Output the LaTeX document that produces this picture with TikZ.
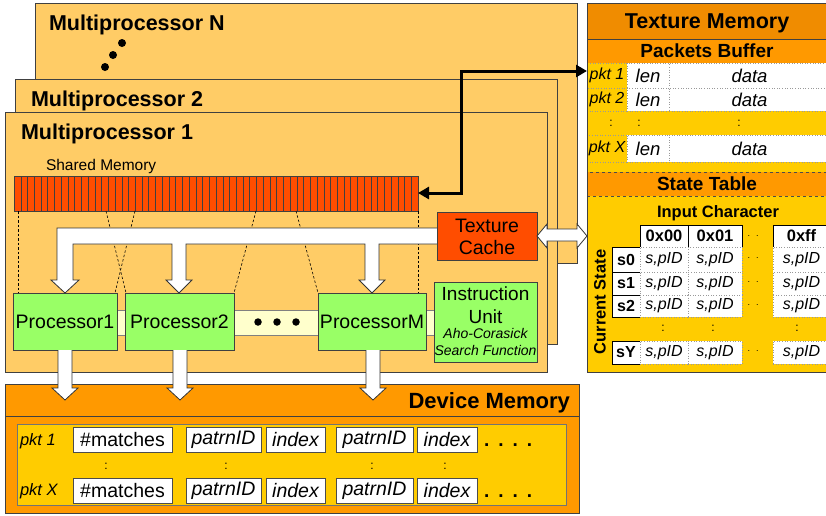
\documentclass[tikz,border=0pt]{standalone}
\usepackage{fontspec}
\setmainfont{Liberation Sans}
\usetikzlibrary{arrows.meta}
\newcommand{\fsz}[1]{\fontsize{#1}{#1}\selectfont}
% \rbox[options]{x1}{y1}{x2}{y2}{name}{text}
\newcommand{\rbox}[7][]{\node[#1, minimum width={(#4)-(#2)}, minimum height={(#5)-(#3)}, anchor=center] (#6) at ({((#2)+(#4))/2},{((#3)+(#5))/2}) {#7};}
\definecolor{mpfill}{HTML}{FFCC66}
\definecolor{redor}{HTML}{FF4D00}
\definecolor{grnc}{HTML}{99FF66}
\definecolor{yel}{HTML}{FFCC00}
\definecolor{org}{HTML}{FF9900}
\definecolor{dorg}{HTML}{F08C00}
\definecolor{lyel}{HTML}{FFFFCC}
\definecolor{edgec}{HTML}{404040}
\begin{document}
\begin{tikzpicture}[x=1pt,y=-1pt,
  every node/.style={inner sep=0pt, outer sep=0pt},
  bx/.style={draw=edgec, line width=0.8pt},
  mpbox/.style={bx, fill=mpfill},
  ttl/.style={font=\fsz{21.5}\bfseries, anchor=base west},
  grn/.style={bx, fill=grnc},
  dotn/.style={circle, fill=black, minimum size=8pt},
  dsh/.style={dash pattern=on 2.5pt off 2pt, line width=0.6pt},
  warrow/.style={draw=black!80, fill=white, line width=0.8pt, line join=miter},
  dmcell/.style={draw=black!70, fill=white, line width=0.8pt, font=\fsz{19.5}},
  pcell/.style={draw=gray!80, dotted, fill=yel, line width=0.6pt, font=\fsz{16}\itshape},
  wcell/.style={draw=gray!80, dotted, fill=white, line width=0.6pt, font=\fsz{18.5}\itshape},
  scell/.style={draw=gray!80, dotted, fill=white, line width=0.6pt, font=\fsz{16}\itshape},
  hdr/.style={draw=black, fill=white, line width=0.8pt, font=\fsz{16.5}\bfseries},
  colon/.style={font=\fsz{12}}
]
\path[use as bounding box] (0,0) rectangle (826,515);
\clip (0,0) rectangle (826,515);
\fill[white] (0,0) rectangle (826,515);

% Multiprocessor N
\rbox[mpbox]{35}{3}{577}{263}{mpN}{}
\node[ttl] (mpNt) at (49,30) {Multiprocessor N};
\node[dotn] (dN1) at (105,67) {};
\node[dotn] (dN2) at (113,55) {};
\node[dotn] (dN3) at (122,43) {};
% Multiprocessor 2
\rbox[mpbox]{15}{79}{557}{344}{mp2}{}
\node[ttl] (mp2t) at (31,106) {Multiprocessor 2};
% Multiprocessor 1
\rbox[mpbox]{5}{112}{547}{372}{mp1}{}
\node[ttl] (mp1t) at (21,139) {Multiprocessor 1};
\node[font=\fsz{15.5}, anchor=base west] (shmt) at (46,170) {Shared Memory};
\rbox[bx, fill=redor]{14}{176}{418}{211}{shm}{}
\foreach \i in {1,...,59} \draw[line width=0.4pt, black!75] ({14+\i*6.7333},176) -- ({14+\i*6.7333},211);

% bus and processors
\rbox[fill=lyel, draw=black!50, line width=0.6pt]{117}{310}{434}{335}{bus}{}
\rbox[grn, font=\fsz{19.5}]{13}{293}{117}{350}{p1}{Processor1}
\rbox[grn, font=\fsz{19.5}]{125}{293}{234}{350}{p2}{Processor2}
\rbox[grn, font=\fsz{19.5}]{318}{293}{426}{350}{pM}{ProcessorM}
\node[dotn, minimum size=7.5pt] (e1) at (258,322) {};
\node[dotn, minimum size=7.5pt] (e2) at (277,322) {};
\node[dotn, minimum size=7.5pt] (e3) at (296,322) {};
\rbox[grn]{434}{282}{537}{362}{iu}{}
\node[font=\fsz{19}, anchor=base] (iu1) at (485.5,300) {Instruction};
\node[font=\fsz{19}, anchor=base] (iu2) at (485.5,323) {Unit};
\node[font=\fsz{14}\itshape, anchor=base] (iu3) at (485.5,338) {Aho-Corasick};
\node[font=\fsz{14}\itshape, anchor=base] (iu4) at (485.5,355) {Search Function};

% dashed mapping lines
\draw[dsh] (18,0 |- shm.south) -- (18,0 |- p1.north);
\draw[dsh] (106,0 |- shm.south) -- (126,0 |- p2.north);
\draw[dsh] (135,0 |- shm.south) -- (115,0 |- p1.north);
\draw[dsh] (256,0 |- shm.south) -- (234,0 |- p2.north);
\draw[dsh] (296,0 |- shm.south) -- (318,0 |- pM.north);
\draw[dsh] (418,0 |- shm.south) -- (418,0 |- pM.north);

% big white arrow from texture cache
\draw[warrow] (437,228) -- (57,228) -- (57,280) -- (51,280) -- (65,293) -- (79,280) -- (73,280) -- (73,244)
  -- (172,244) -- (172,280) -- (166,280) -- (179,293) -- (192,280) -- (186,280) -- (186,244)
  -- (365,244) -- (365,280) -- (359,280) -- (372,293) -- (385,280) -- (379,280) -- (379,244) -- (437,244);
\rbox[bx, fill=redor]{437}{212}{537}{260}{tc}{}
\node[font=\fsz{19.5}, anchor=base] (tc1) at (487,232) {Texture};
\node[font=\fsz{19.5}, anchor=base] (tc2) at (487,254) {Cache};

% Device memory
\rbox[bx, fill=org]{5}{384}{579}{513}{dm}{}
\draw[bx] (dm.west |- 0,416) -- (dm.east |- 0,416);
\node[font=\fsz{22}\bfseries, anchor=base east] (dmt) at (570,408) {Device Memory};
\rbox[fill=yel, draw=black!55, line width=0.8pt]{17}{424}{566}{505}{dmi}{}
\node[font=\fsz{16.5}\itshape, anchor=base west] (r1) at (20,445) {pkt 1};
\rbox[dmcell]{73}{427}{172}{452}{m1}{\#matches}
\rbox[dmcell, font=\fsz{19.5}\itshape]{186}{427}{261}{452}{pa1}{patrnID}
\rbox[dmcell, font=\fsz{19.5}\itshape]{266}{427}{325}{452}{ia1}{index}
\rbox[dmcell, font=\fsz{19.5}\itshape]{336}{427}{413}{452}{pb1}{patrnID}
\rbox[dmcell, font=\fsz{19.5}\itshape]{417}{427}{477}{452}{ib1}{index}
\node[font=\fsz{19}\bfseries, anchor=base west] (dd1) at (484,446) {.\hspace{9pt}.\hspace{9pt}.\hspace{9pt}.};
\node[font=\fsz{16.5}\itshape, anchor=base west] (rX) at (20,495) {pkt X};
\rbox[dmcell]{73}{478}{172}{503}{mX}{\#matches}
\rbox[dmcell, font=\fsz{19.5}\itshape]{186}{478}{261}{503}{paX}{patrnID}
\rbox[dmcell, font=\fsz{19.5}\itshape]{266}{478}{325}{503}{iaX}{index}
\rbox[dmcell, font=\fsz{19.5}\itshape]{336}{478}{413}{503}{pbX}{patrnID}
\rbox[dmcell, font=\fsz{19.5}\itshape]{417}{478}{477}{503}{ibX}{index}
\node[font=\fsz{19}\bfseries, anchor=base west] (ddX) at (484,497) {.\hspace{9pt}.\hspace{9pt}.\hspace{9pt}.};
\node[colon] (dc1) at (106,466) {:};
\node[colon] (dc2) at (226,466) {:};
\node[colon] (dc3) at (372,466) {:};
\node[colon] (dc4) at (445,466) {:};

% down arrows
\draw[warrow] (58,350) -- (58,388) -- (52,388) -- (65,400) -- (78,388) -- (72,388) -- (72,350);
\draw[warrow] (173,350) -- (173,388) -- (167,388) -- (180,400) -- (193,388) -- (187,388) -- (187,350);
\draw[warrow] (366,350) -- (366,388) -- (360,388) -- (373,400) -- (386,388) -- (380,388) -- (380,350);

% Texture memory
\rbox[bx, fill=yel]{587}{3}{830}{372}{tm}{}
\rbox[bx, fill=dorg]{587}{3}{830}{39}{tmh}{}
\node[font=\fsz{21.5}\bfseries, anchor=base] (tmt) at (707,28) {Texture Memory};
\rbox[bx, fill=org]{587}{39}{830}{63}{pbh}{}
\node[font=\fsz{19}\bfseries, anchor=base] (pbt) at (707,57) {Packets Buffer};
\rbox[pcell]{587}{63}{627}{88}{k1}{pkt 1}
\rbox[wcell]{627}{63}{669}{88}{l1}{len}
\rbox[wcell]{669}{63}{830}{88}{t1}{data}
\rbox[pcell]{587}{88}{627}{111}{k2}{pkt 2}
\rbox[wcell]{627}{88}{669}{111}{l2}{len}
\rbox[wcell]{669}{88}{830}{111}{t2}{data}
\rbox[pcell]{587}{135}{627}{162}{kX}{pkt X}
\rbox[wcell]{627}{135}{669}{162}{lX}{len}
\rbox[wcell]{669}{135}{830}{162}{tX}{data}
\node[colon] (pc1) at (611,123) {:};
\node[colon] (pc2) at (639,123) {:};
\node[colon] (pc3) at (739,123) {:};

% State table
\rbox[fill=org, draw=black!70, dashed, line width=0.8pt]{587}{172}{830}{196}{sth}{}
\node[font=\fsz{19}\bfseries, anchor=base] (stt) at (707,190) {State Table};
\node[font=\fsz{16.5}\bfseries, anchor=base] (ict) at (718,217) {Input Character};
\rbox[hdr]{640}{225}{688}{247}{h0}{0x00}
\rbox[hdr]{688}{225}{742}{247}{h1}{0x01}
\rbox[hdr]{773}{225}{830}{247}{hf}{0xff}
\node[font=\fsz{9}] (hd) at (753,236) {.\hspace{6pt}.};
\foreach \nm/\ya/\yb in {s0/247/272, s1/272/295, s2/295/317, sY/341/364} {
  \rbox[hdr, font=\fsz{16}\bfseries]{612}{\ya}{640}{\yb}{r\nm}{\nm}
  \rbox[scell]{640}{\ya}{688}{\yb}{a\nm}{s,pID}
  \rbox[scell]{688}{\ya}{742}{\yb}{b\nm}{s,pID}
  \rbox[scell]{773}{\ya}{830}{\yb}{f\nm}{s,pID}
  \node[font=\fsz{9}] (d\nm) at (753,{(\ya+\yb)/2-1}) {.\hspace{6pt}.};
}
\node[colon] (sc1) at (663,328) {:};
\node[colon] (sc2) at (713,328) {:};
\node[colon] (sc3) at (797,328) {:};
\node[font=\fsz{16.5}\bfseries, rotate=90] (cs) at (600,302) {Current State};
\draw[bx] (tm.north west) rectangle (tm.south east);

% double white arrow texture cache <-> texture memory
\draw[warrow] (tc.east |- 0,236) -- (547,224) -- (547,229) -- (577,229) -- (577,224) -- (tm.west |- 0,236)
  -- (577,248) -- (577,241) -- (547,241) -- (547,248) -- cycle;

% black arrow packets buffer <-> shared memory
\draw[line width=3pt, line join=miter, {Triangle[length=11pt,width=12pt]}-{Triangle[length=11pt,width=12pt]}]
  (shm.east |- 0,193) -- (461,193) -- (461,71) -- (tm.west |- 0,71);
\end{tikzpicture}
\end{document}
